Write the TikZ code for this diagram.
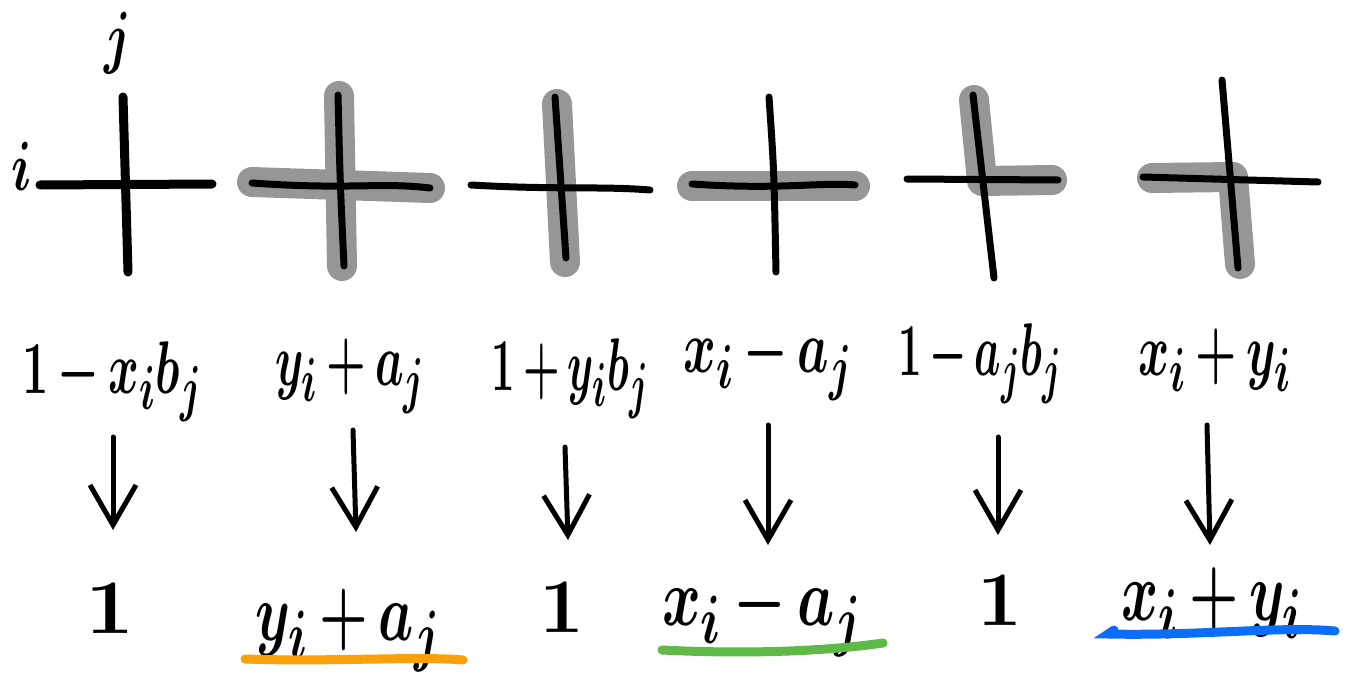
\documentclass[tikz,border=0pt]{standalone}
\usepackage{graphicx}
\usetikzlibrary{arrows.meta}
\definecolor{hl}{RGB}{150,150,150}
\definecolor{uorange}{RGB}{250,160,10}
\definecolor{ugreen}{RGB}{95,185,70}
\definecolor{ublue}{RGB}{10,110,250}
\newcommand{\hw}[3]{\scalebox{#1}[#2]{\Huge\boldmath$#3$}}
\newcommand{\mn}{\,{-}\,}
\newcommand{\pl}{\,{+}\,}
\tikzset{
  stroke/.style={line width=7pt,line cap=round,line join=round,black},
  hilite/.style={line width=30pt,line cap=round,line join=round,hl},
  lbl/.style={inner sep=0pt,anchor=base},
  arr/.style={line width=5pt,line cap=round,-{Straight Barb[length=40pt,width=46pt,line width=5pt]}},
  uline/.style={line width=9pt,line cap=round}
}
\begin{document}
\begin{tikzpicture}[x=1pt,y=-1pt]
\useasboundingbox (0,0) rectangle (1347,688);
% highlights
\draw[hilite] (339,96) -- (342,266);
\draw[hilite] (252,182) -- (430,188);
\draw[hilite] (557,104) -- (565,262);
\draw[hilite] (692,186) -- (855,186);
\draw[hilite] (974,100) -- (982,181) -- (1052,180);
\draw[hilite] (1152,178) -- (1233,177) -- (1240,264);
% crosses
\draw[stroke,line width=9pt] (123,97) -- (128,272);
\draw[stroke,line width=9pt] (40,185) -- (212,184);
\draw[stroke] (338,95) .. controls (340,180) .. (344,266);
\draw[stroke] (252,183) .. controls (350,190) and (380,182) .. (430,188);
\draw[stroke] (555,97) -- (566,258);
\draw[stroke] (471,185) .. controls (560,190) and (600,186) .. (650,190);
\draw[stroke] (769,97) .. controls (774,170) .. (776,272);
\draw[stroke] (692,184) .. controls (780,190) and (820,182) .. (855,185);
\draw[stroke] (973,95) -- (994,278);
\draw[stroke] (907,179) -- (1058,180);
\draw[stroke] (1222,80) -- (1238,268);
\draw[stroke] (1143,177) -- (1318,182);
% axis labels
\node[lbl] (lj) at (118,60) {\hw{2.0}{2.8}{j}};
\node[lbl] (li) at (22,190) {\hw{2.0}{2.8}{i}};
% top labels
\node[lbl] (t1) at (112,393) {\hw{1.88}{3}{1\mn x_ib_j}};
\node[lbl] (t2) at (350,385) {\hw{1.82}{3}{y_i\pl a_j}};
\node[lbl] (t3) at (570,390) {\hw{1.68}{3}{1\pl y_ib_j}};
\node[lbl] (t4) at (768,372) {\hw{2.0}{3}{x_i\mn a_j}};
\node[lbl] (t5) at (980,375) {\hw{1.68}{3}{1\mn a_jb_j}};
\node[lbl] (t6) at (1215,375) {\hw{1.9}{3}{x_i\pl y_i}};
% results
\node[lbl] (r1) at (110,633) {\hw{3.5}{3.1}{1}};
\node[lbl] (r2) at (348,640) {\hw{2.24}{3.3}{y_i\pl a_j}};
\node[lbl] (r3) at (562,632) {\hw{3.2}{3.1}{1}};
\node[lbl] (r4) at (762,625) {\hw{2.37}{3.3}{x_i\mn a_j}};
\node[lbl] (r5) at (1000,625) {\hw{3.2}{3.1}{1}};
\node[lbl] (r6) at (1212,620) {\hw{2.27}{3.4}{x_i\pl y_i}};
% arrow ends
\coordinate (a1s) at (113,437); \coordinate (a1e) at (113,530);
\coordinate (a2s) at (353,430); \coordinate (a2e) at (356,532);
\coordinate (a3s) at (565,447); \coordinate (a3e) at (568,540);
\coordinate (a4s) at (768,425); \coordinate (a4e) at (768,545);
\coordinate (a5s) at (998,437); \coordinate (a5e) at (998,535);
\coordinate (a6s) at (1207,425); \coordinate (a6e) at (1210,545);
\foreach \k in {1,...,6} \draw[arr] (a\k s) -- (a\k e);
% underlines
\coordinate (o1) at (245,659); \coordinate (o2) at (463,660);
\coordinate (g1) at (662,650); \coordinate (g2) at (883,643);
\coordinate (b1) at (1108,634); \coordinate (b2) at (1335,631);
\draw[uline,uorange] (o1) .. controls (330,662) and (420,656) .. (o2);
\draw[uline,ugreen] (g1) .. controls (740,654) and (820,652) .. (g2);
\draw[uline,ublue] (1114,630) -- (b1) .. controls (1200,636) and (1280,626) .. (b2);
\end{tikzpicture}
\end{document}
